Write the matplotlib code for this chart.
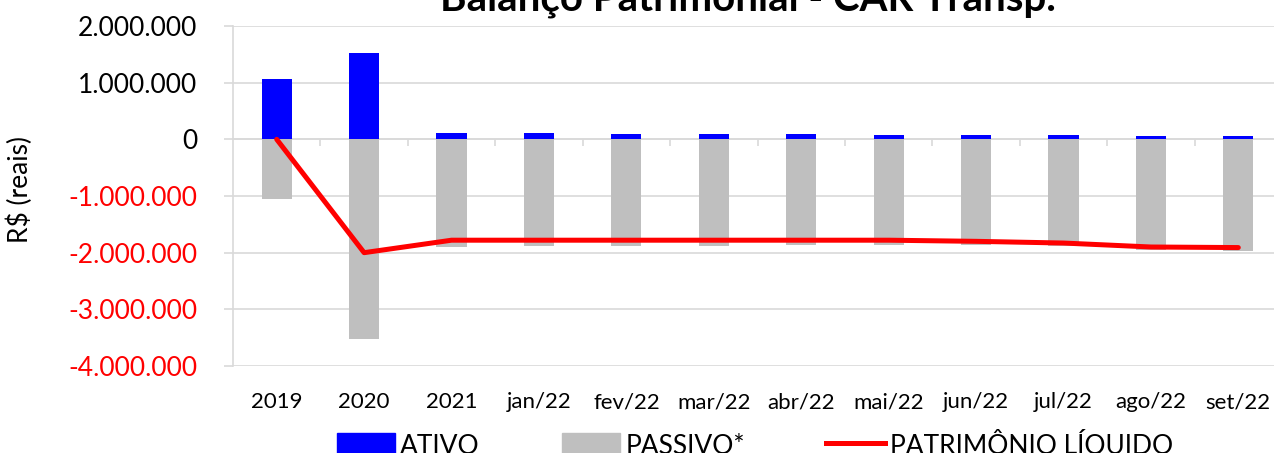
import numpy as np
import matplotlib
matplotlib.use('Agg')
import matplotlib.pyplot as plt
from matplotlib.ticker import FuncFormatter
from matplotlib.patches import Patch
from matplotlib.lines import Line2D

plt.rcParams['font.family'] = ['Lato', 'DejaVu Sans']

# dados (R$)
categorias = ['2019', '2020', '2021', 'jan/22', 'fev/22', 'mar/22', 'abr/22',
              'mai/22', 'jun/22', 'jul/22', 'ago/22', 'set/22']
ativo = [1060000, 1520000, 110000, 110000, 100000, 95000, 90000, 80000,
         70000, 70000, 55000, 55000]
passivo = [-1060000, -3530000, -1900000, -1890000, -1880000, -1880000,
           -1870000, -1860000, -1870000, -1890000, -1955000, -1965000]
patrimonio = [0, -2000000, -1780000, -1780000, -1780000, -1780000, -1780000,
              -1780000, -1800000, -1830000, -1900000, -1910000]

cinza_grade = '#d9d9d9'

fig = plt.figure(figsize=(12.74, 4.53), dpi=100)
ax = fig.add_axes([233 / 1274, 1 - 366 / 453, 1049 / 1274, 340 / 453])

x = np.arange(len(categorias))
ax.bar(x, ativo, width=0.345, color='#0000ff', zorder=2)
ax.bar(x, passivo, width=0.345, color='#bfbfbf', zorder=2)
ax.plot(x, patrimonio, color='#ff0000', lw=3.6, solid_capstyle='round', zorder=3)

ax.set_xlim(-0.5, len(categorias) - 0.5)
ax.set_ylim(-4000000, 2000000)
ax.set_yticks(np.arange(-4000000, 2000001, 1000000))
ax.yaxis.set_major_formatter(FuncFormatter(lambda v, p: f'{v:,.0f}'.replace(',', '.')))
ax.tick_params(axis='y', labelsize=19, length=6.5, color=cinza_grade, width=1.2, pad=19)
for lbl, v in zip(ax.get_yticklabels(), ax.get_yticks()):
    lbl.set_color('red' if v < 0 else 'black')

ax.set_xticks(x)
ax.set_xticklabels(categorias)
ax.tick_params(axis='x', labelsize=16, length=0, pad=19)

ax.grid(axis='y', color=cinza_grade, lw=1.2, zorder=0)
ax.set_axisbelow(True)
for s in ['top', 'right', 'bottom']:
    ax.spines[s].set_visible(False)
ax.spines['left'].set_color(cinza_grade)
ax.spines['left'].set_linewidth(1.2)

# eixo das categorias cruzando no zero
sec = ax.secondary_xaxis(4 / 6)
sec.set_xticks(np.arange(0.5, len(categorias) - 0.5, 1))
sec.tick_params(axis='x', which='major', bottom=True, top=False,
                labelbottom=False, labeltop=False, direction='out',
                length=5, color=cinza_grade, width=1.2)
for s in sec.spines.values():
    s.set_color(cinza_grade)
    s.set_linewidth(1.2)

fig.text(20 / 1274, 1 - 190 / 453, 'R$ (reais)', rotation=90, ha='center',
         va='center', fontsize=19)

fig.text(748 / 1274, 1 - 10 / 453, 'Balanço Patrimonial - CAR Transp.',
         ha='center', va='baseline', fontsize=29, fontweight='bold')

handles = [Patch(color='#0000ff'), Patch(color='#bfbfbf'),
           Line2D([], [], color='#ff0000', lw=3.6)]
fig.legend(handles, ['ATIVO', 'PASSIVO*', 'PATRIMÔNIO LÍQUIDO'],
           loc='center', bbox_to_anchor=(755 / 1274, 1 - 444 / 453), ncol=3,
           frameon=False, fontsize=19, handlelength=2.2, handleheight=0.9,
           handletextpad=0.2, columnspacing=3.1)

fig.savefig('out.png', dpi=100)
